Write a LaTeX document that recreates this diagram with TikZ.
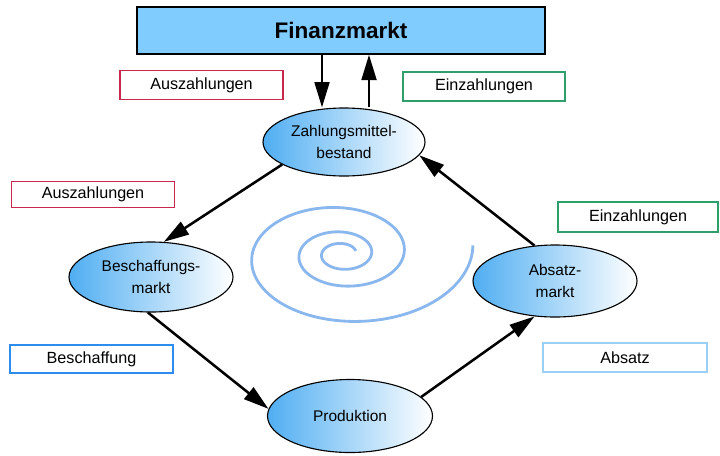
\documentclass[tikz,border=0pt]{standalone}
\usepackage{fontspec}
\setmainfont{Liberation Sans}
\usetikzlibrary{arrows.meta, shapes.geometric}

\begin{document}
\begin{tikzpicture}[x=0.025cm, y=-0.025cm,
    flow/.style={line width=1.8pt, -{Triangle[length=18pt,width=10.5pt]}},
    flowbox/.style={draw, line width=1.1pt, rectangle, minimum width=163*\px, minimum height=29*\px, font=\fontsize{11.5}{13}\selectfont},
    stage/.style={ellipse, draw, line width=0.8pt, left color=ellBlue, right color=white, align=center, inner sep=0pt, font=\fontsize{11}{16}\selectfont}]
    % Define pixel unit
    \def\px{0.025cm}

    \definecolor{marketBlue}{HTML}{80CCFF}
    \definecolor{ellBlue}{HTML}{50AEF2}
    \definecolor{spiralBlue}{HTML}{8AB8EE}
    \definecolor{outRed}{HTML}{C8284C}
    \definecolor{inGreen}{HTML}{2E9E6A}
    \definecolor{buyBlue}{HTML}{2D8CF0}
    \definecolor{sellBlue}{HTML}{9CCFF5}

    \useasboundingbox (0,0) rectangle (720,455);

    % Draw the financial market
    \node[draw, line width=1pt, fill=marketBlue, minimum width=408*\px, minimum height=47*\px,
          font=\fontsize{16}{18}\selectfont\bfseries] (fm) at (341,30.5) {Finanzmarkt};

    % Draw the stages of the cycle
    \node[stage, minimum width=162*\px, minimum height=68*\px] (zms) at (344,142) {Zahlungsmittel-\\bestand};
    \node[stage, minimum width=164*\px, minimum height=70*\px] (bm) at (151,277) {Beschaffungs-\\markt};
    \node[stage, minimum width=164*\px, minimum height=72*\px] (am) at (555,281) {Absatz-\\markt};
    \node[stage, minimum width=165*\px, minimum height=73*\px] (prod) at (350,416) {Produktion};

    % Draw the labels of the flows
    \node[flowbox, draw=outRed] (out1) at (201.5,85) {Auszahlungen};
    \node[flowbox, draw=inGreen, minimum width=162*\px] (in1) at (484,86.5) {Einzahlungen};
    \node[flowbox, draw=outRed, minimum height=26*\px] (out2) at (93,194.5) {Auszahlungen};
    \node[flowbox, draw=inGreen, minimum width=160*\px, minimum height=30*\px] (in2) at (638,217) {Einzahlungen};
    \node[flowbox, draw=buyBlue, minimum height=28*\px] (buy) at (91.5,359) {Beschaffung};
    \node[flowbox, draw=sellBlue, minimum width=164*\px] (sell) at (625,357.5) {Absatz};

    % Draw the flows
    \draw[flow] ([xshift=-19*\px]fm.south) -- ([xshift=-22*\px]zms.north);
    \draw[flow] ([xshift=25*\px]zms.north) -- ([xshift=28*\px]fm.south);
    \draw[flow] (zms.200) -- (bm.70);
    \draw[flow] (bm.265) -- (prod.175);
    \draw[flow] (prod.15) -- (am.240);
    \draw[flow] (am.120) -- (zms.350);

    % Draw the spiral
    \draw[spiralBlue, line width=2pt] plot[domain=-1060:6, samples=300, smooth, variable=\t]
        ({342+130*exp(0.118*\t/57.2958)*cos(\t)}, {254-0.62*130*exp(0.118*\t/57.2958)*sin(\t)});

\end{tikzpicture}
\end{document}
